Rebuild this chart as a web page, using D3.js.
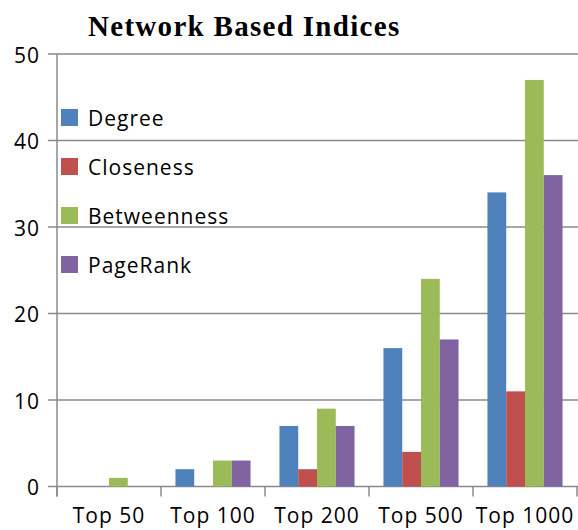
<!DOCTYPE html>
<html>
  <head>
    <meta charset="utf-8">
    <title>Network Based Indices</title>
    <script src="https://d3js.org/d3.v7.min.js"></script>
    <style>
      body { margin: 0; background: #fff; }
      .lbl { font-family: "Open Sans", sans-serif; font-size: 21px; letter-spacing: 1px; fill: #000; }
      #title { font-family: "Liberation Serif", "Times New Roman", serif; font-weight: bold; font-size: 29px; letter-spacing: 1.3px; }
    </style>
  </head>
  <body>
    <div id="chart"></div>
    <script>
      // data
      var categories = ["Top 50", "Top 100", "Top 200", "Top 500", "Top 1000"];
      var series = ["Degree", "Closeness", "Betweenness", "PageRank"];
      var degree      = [0, 2, 7, 16, 34];
      var closeness   = [0, 0, 2, 4, 11];
      var betweenness = [1, 3, 9, 24, 47];
      var pagerank    = [0, 3, 7, 17, 36];
      var yTicks = [0, 10, 20, 30, 40, 50];
      var colors = ["#4f81bd", "#c0504d", "#9bbb59", "#8064a2"];

      var values = [degree, closeness, betweenness, pagerank];
      var rows = [];
      categories.forEach(function(c, i) {
        series.forEach(function(s, j) {
          rows.push({cat: c, series: s, value: values[j][i], color: colors[j]});
        });
      });

      var width = 578, height = 530;
      var plotLeft = 57, plotRight = 577, plotTop = 54, plotBottom = 486.5;

      var svg = d3.select("#chart").append("svg")
        .attr("width", width)
        .attr("height", height);

      var x = d3.scaleBand().domain(categories).range([plotLeft, plotRight]);
      var xInner = d3.scaleBand().domain(series).range([0, x.bandwidth()]).paddingOuter(0.77);
      var y = d3.scaleLinear().domain([0, 50]).range([plotBottom, plotTop]);

      // gridlines
      svg.append("g")
        .selectAll("line")
        .data(yTicks)
        .enter().append("line")
          .attr("x1", plotLeft - 9)
          .attr("x2", width)
          .attr("y1", function(d) { return y(d); })
          .attr("y2", function(d) { return y(d); })
          .attr("stroke", "#8a8a8a")
          .attr("stroke-width", 1.5);

      // y axis line
      svg.append("line")
        .attr("x1", plotLeft).attr("x2", plotLeft)
        .attr("y1", plotTop).attr("y2", plotBottom + 10)
        .attr("stroke", "#8a8a8a")
        .attr("stroke-width", 1.5);

      // y labels
      svg.append("g")
        .selectAll("text")
        .data(yTicks)
        .enter().append("text")
          .attr("class", "lbl")
          .attr("x", 40)
          .attr("y", function(d) { return y(d) + 8.5; })
          .attr("text-anchor", "end")
          .text(function(d) { return d; });

      // category boundary ticks
      var bounds = categories.map(function(c) { return x(c); }).concat([plotRight]);
      svg.append("g")
        .selectAll("line")
        .data(bounds)
        .enter().append("line")
          .attr("x1", function(d) { return d; })
          .attr("x2", function(d) { return d; })
          .attr("y1", plotBottom)
          .attr("y2", plotBottom + 10)
          .attr("stroke", "#8a8a8a")
          .attr("stroke-width", 1.5);

      // bars
      svg.append("g")
        .selectAll("rect")
        .data(rows.filter(function(d) { return d.value > 0; }))
        .enter().append("rect")
          .attr("x", function(d) { return x(d.cat) + xInner(d.series); })
          .attr("width", xInner.bandwidth())
          .attr("y", function(d) { return y(d.value); })
          .attr("height", function(d) { return y(0) - y(d.value); })
          .attr("fill", function(d) { return d.color; });

      // category labels
      svg.append("g")
        .selectAll("text")
        .data(categories)
        .enter().append("text")
          .attr("class", "lbl")
          .attr("x", function(d) { return x(d) + x.bandwidth() / 2; })
          .attr("y", 523)
          .attr("text-anchor", "middle")
          .text(function(d) { return d; });

      // legend
      var legend = svg.append("g")
        .selectAll("g")
        .data(series)
        .enter().append("g")
          .attr("transform", function(d, i) { return "translate(61," + (109 + i * 49) + ")"; });
      legend.append("rect")
        .attr("width", 17)
        .attr("height", 17)
        .attr("fill", function(d, i) { return colors[i]; });
      legend.append("text")
        .attr("class", "lbl")
        .attr("x", 27)
        .attr("y", 17)
        .text(function(d) { return d; });

      // title
      svg.append("text")
        .attr("id", "title")
        .attr("x", 88)
        .attr("y", 36)
        .text("Network Based Indices");
    </script>
  </body>
</html>
